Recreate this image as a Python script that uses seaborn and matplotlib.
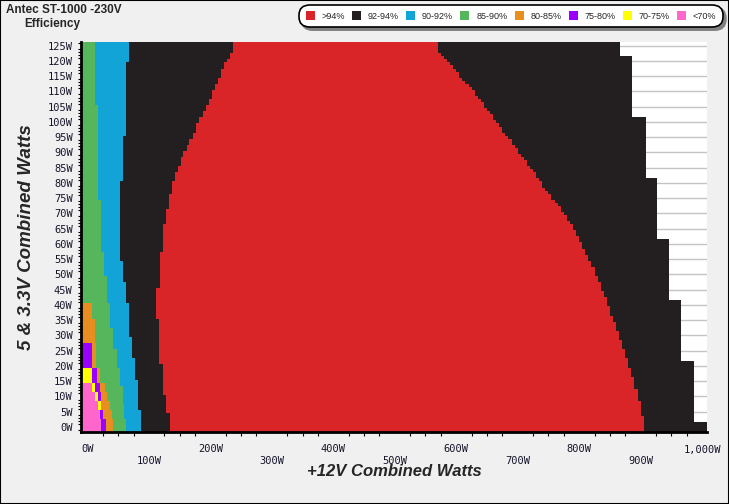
import numpy as np
import matplotlib
matplotlib.use("Agg")
import matplotlib.pyplot as plt
from matplotlib.patches import Patch, Rectangle
from matplotlib.ticker import MultipleLocator, FixedLocator, FixedFormatter
import seaborn as sns

# 5 & 3.3V load rows (W)
rows_w = list(range(0, 126))

# efficiency bands (legend order) and colours
band_labels = [">94%", "92-94%", "90-92%", "85-90%", "80-85%", "75-80%", "70-75%", "<70%"]
band_colors = ["#d92528", "#231f20", "#12a4d6", "#56b65b", "#e88d1f", "#9900ff", "#ffff00", "#ff66cc"]

# right edge (+12V W) of each band per row, as (first row, x end) steps; None = band absent
pink_end = [(0, 22), (3, 21), (6, 16.5), (9, 11.5), (12, 7), (15, None)]
yellow_end = [(0, None), (6, 22), (9, 17), (12, 12), (15, 7), (20, None)]
purple_end = [(0, 30), (3, 25), (6, None), (9, 22), (12, 20), (15, 15), (20, 7), (28, None)]
orange_end = [(0, 41), (3, 40), (6, 37), (9, 31), (12, 29), (15, 21), (20, 14), (28, 12.5),
              (36, 7), (41, None)]
green_end = [(0, 62.5), (3, 59.5), (8, 57.6), (14, 53.2), (20, 47.8), (26, 42.3), (33, 37),
             (41, 31.6), (50, 27.7), (58, 22.3), (75, 17), (106, 12.5)]
blue_end = [(0, 87.4), (6, 83), (16, 77.6), (23, 72.2), (30, 66.8), (41, 63), (48, 58.6),
            (55, 53.2), (81, 58.6), (96, 63), (120, 67.9)]
black_end = [(0, 133.5), (5, 128), (11, 122.7), (21, 117), (36, 111.8), (46, 118.3), (58, 123),
             (67, 128), (72, 133), (77, 138), (81, 142.7), (84, 148), (86, 152.5), (89, 156),
             (91, 162), (93, 166), (95, 172), (97, 177), (100, 182), (102, 187.5), (104, 193),
             (106, 198), (108, 203), (111, 208), (113, 213), (115, 217.6), (118, 222.5),
             (120, 227), (121, 232), (123, 236.6)]
red_end = [(0, 905), (4, 900), (9, 895), (13, 890), (17, 885), (20, 880), (23, 875), (26, 870),
           (29, 865), (32, 860), (35, 855), (37, 850), (40, 845), (43, 840), (45, 835), (48, 830),
           (50, 825), (53, 820), (55, 815), (57, 810), (59, 805), (61, 800), (63, 795), (65, 790),
           (67, 785), (68, 780), (70, 775), (71, 770), (73, 765), (74, 760), (75, 755), (77, 750),
           (78, 745), (79, 740), (81, 735), (82, 730), (84, 725), (85, 720), (86, 715), (88, 710),
           (89, 705), (90, 700), (92, 695), (93, 690), (95, 685), (96, 680), (97, 675), (99, 670),
           (100, 665), (101, 660), (103, 655), (104, 650), (105, 645), (107, 640), (108, 635),
           (109, 630), (111, 625), (112, 620), (113, 615), (114, 610), (115, 605), (117, 600),
           (118, 595), (119, 590), (120, 585), (121, 580), (122, 575), (123, 570)]
max_end = [(0, 1008), (2, 987.5), (22, 966), (42, 946), (62, 927), (82, 908), (102, 886), (122, 867)]

segments = [("<70%", pink_end), ("70-75%", yellow_end), ("75-80%", purple_end),
            ("80-85%", orange_end), ("85-90%", green_end), ("90-92%", blue_end),
            ("92-94%", black_end), (">94%", red_end), ("92-94%", max_end)]

xticks_w = list(range(0, 1001, 100))
yticks_w = list(range(0, 126, 5))

XLIM = (-10.5, 1008)
YLIM = (-1.64, 126.2)


def expand(steps):
    out = []
    for r in rows_w:
        v = None
        for first, x in steps:
            if first <= r:
                v = x
        out.append(v)
    return out


sns.set_style("white")
plt.rcParams["font.family"] = ["Liberation Sans", "DejaVu Sans"]

W, H = 729, 504
fig = plt.figure(figsize=(W / 100, H / 100), dpi=100, facecolor="#f0f0f0")
ax = fig.add_axes([81 / W, 1 - 432 / H, (707 - 81) / W, (432 - 42) / H])
ax.set_facecolor("white")

color_of = dict(zip(band_labels, band_colors))
n = len(rows_w)
bottoms = np.array(rows_w, dtype=float) - 0.5
heights = np.ones(n)
bottoms[0] = YLIM[0]
heights[0] = rows_w[0] + 0.5 - YLIM[0]
heights[-1] = YLIM[1] - bottoms[-1]

left = np.full(n, XLIM[0])
for lab, steps in segments:
    ends = expand(steps)
    widths = np.array([0.0 if e is None else max(0.0, e - l) for e, l in zip(ends, left)])
    ax.barh(bottoms, widths, left=left, height=heights, align="edge",
            color=color_of[lab], linewidth=0, antialiased=False, zorder=2)
    left = left + widths

ax.set_xlim(*XLIM)
ax.set_ylim(*YLIM)

# grid + spines
ax.set_axisbelow(True)
ax.yaxis.grid(True, color="#c4c4c4", lw=1)
ax.xaxis.grid(False)
for s in ["top", "right"]:
    ax.spines[s].set_visible(False)
for s in ["left", "bottom"]:
    ax.spines[s].set_color("black")
    ax.spines[s].set_linewidth(2)
    ax.spines[s].set_zorder(5)

tick_font = dict(family="DejaVu Sans Mono", size=7.5, color="#15152a")
ax.yaxis.set_major_locator(FixedLocator(yticks_w))
ax.yaxis.set_major_formatter(FixedFormatter([f"{v}W" for v in yticks_w]))
ax.yaxis.set_minor_locator(MultipleLocator(1))
xlabels = []
for i, v in enumerate(xticks_w):
    t = f"{v:,}W"
    xlabels.append(t if i % 2 == 0 else "\n" + t)
ax.xaxis.set_major_locator(FixedLocator(xticks_w))
ax.xaxis.set_major_formatter(FixedFormatter(xlabels))
ax.xaxis.set_minor_locator(MultipleLocator(25))
ax.tick_params(axis="y", which="major", direction="out", length=4, width=1, color="black", pad=2)
ax.tick_params(axis="y", which="minor", direction="out", length=2, width=0.8, color="black", left=True)
ax.tick_params(axis="x", which="major", direction="out", length=5, width=1, color="black", pad=4)
ax.tick_params(axis="x", which="minor", direction="out", length=3, width=0.8, color="black", bottom=True)
for lbl in ax.get_xticklabels() + ax.get_yticklabels():
    lbl.set_fontfamily(tick_font["family"])
    lbl.set_fontsize(tick_font["size"])
    lbl.set_color(tick_font["color"])
    lbl.set_linespacing(1.15)

fig.text(394 / W, 1 - 472 / H, "+12V Combined Watts", ha="center", va="center",
         fontsize=12, fontweight="bold", fontstyle="italic")
fig.text(27 / W, 1 - 237 / H, "5 & 3.3V Combined Watts", ha="center", va="center",
         rotation=90, fontsize=13.5, fontweight="bold", fontstyle="italic")

fig.text(6 / W, 1 - 10 / H, "Antec ST-1000 -230V", ha="left", va="center",
         fontsize=8.5, fontweight="bold")
fig.text(24 / W, 1 - 24 / H, "Efficiency", ha="left", va="center",
         fontsize=8.5, fontweight="bold")

handles = [Patch(facecolor=c, edgecolor="none") for c in band_colors]
leg = fig.legend(handles, band_labels, ncol=8, loc="center",
                 bbox_to_anchor=(511 / W, 1 - 16 / H), frameon=True, fancybox=True,
                 shadow={"color": "#808080", "alpha": 1.0}, fontsize=6.5,
                 handlelength=1.0, handleheight=1.0, handletextpad=0.75,
                 columnspacing=0.8, borderpad=0.45, edgecolor="black",
                 framealpha=1.0, facecolor="white")
leg.get_frame().set_linewidth(1.2)
leg.get_frame().set_boxstyle("round", pad=0.3, rounding_size=1.2)

fig.add_artist(Rectangle((0, 0), 1, 1, transform=fig.transFigure, fill=False,
                         edgecolor="black", lw=1.5))

fig.savefig("out.png", dpi=100, facecolor=fig.get_facecolor())
